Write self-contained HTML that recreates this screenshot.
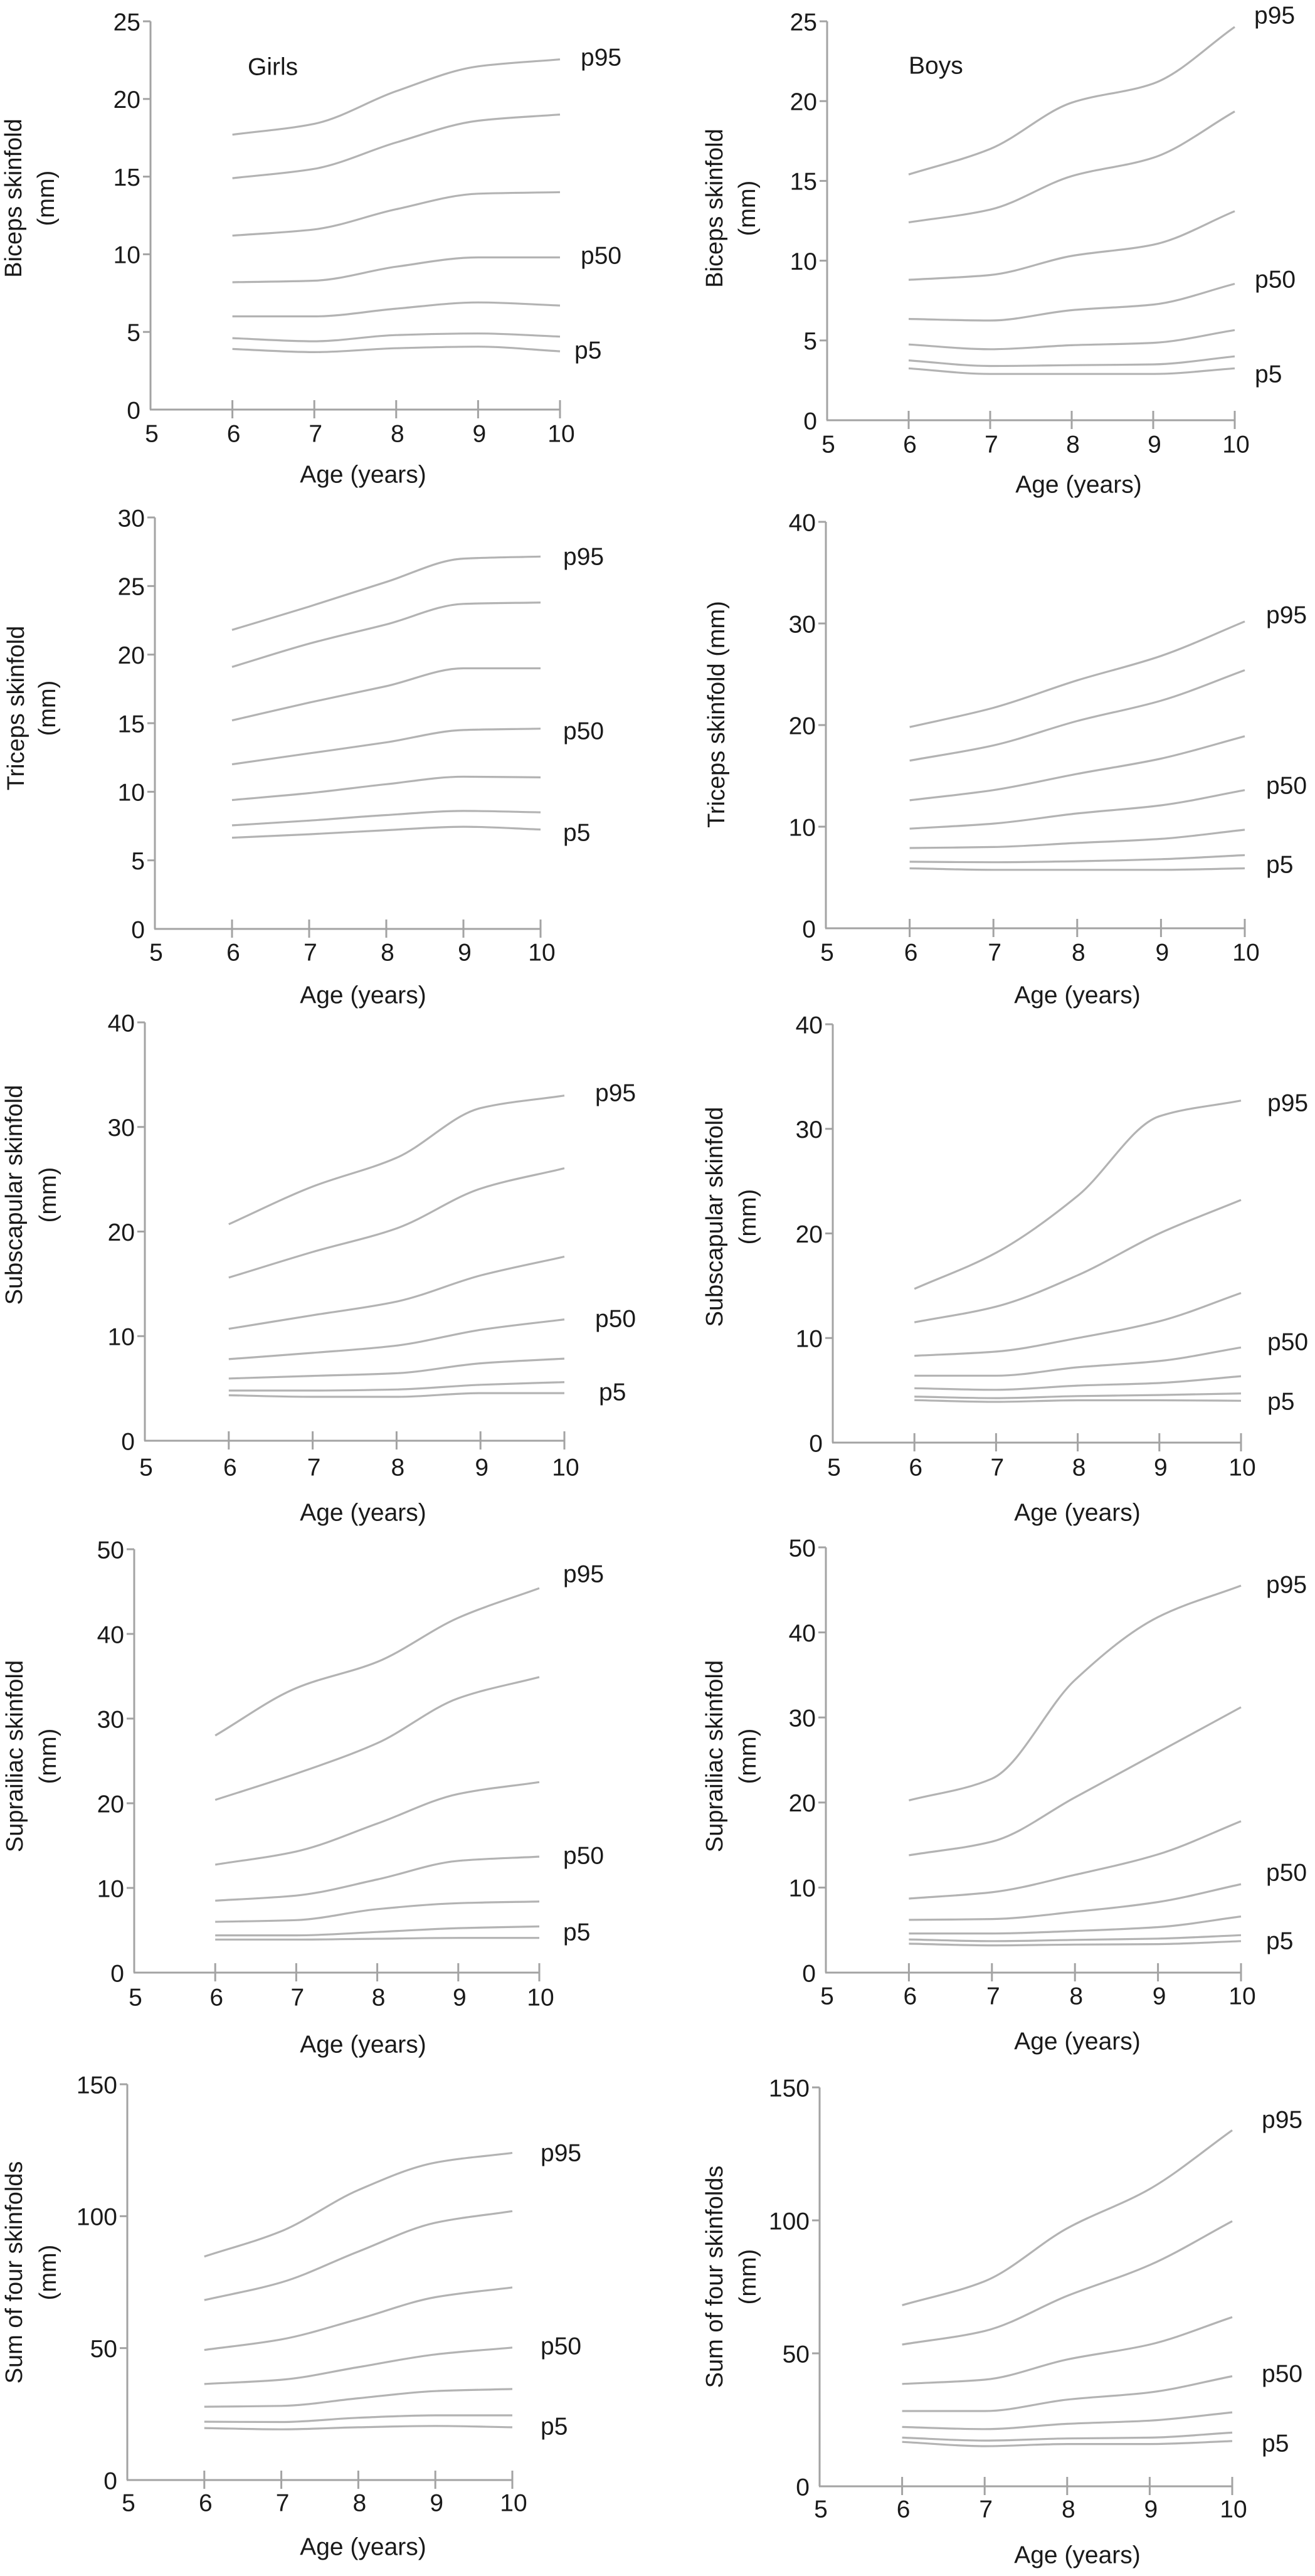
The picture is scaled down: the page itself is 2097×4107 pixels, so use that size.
<!DOCTYPE html>
<html><head><meta charset="utf-8"><title>Skinfold percentiles</title>
<style>
html,body{margin:0;padding:0;background:#fff;}
svg{display:block;}
text{font-family:"Liberation Sans",Arial,sans-serif;fill:#1a1a1a;}
</style></head>
<body>
<svg id="chart" xmlns="http://www.w3.org/2000/svg" width="2097" height="4107" viewBox="0 0 2097 4107">
<rect x="0" y="0" width="2097" height="4107" fill="#ffffff"/>
</svg>
<script>
// ---- data ----
const ages = [6, 7, 8, 9, 10];
const xTicks = [5, 6, 7, 8, 9, 10];
const percentileNames = ["p95", "p90", "p75", "p50", "p25", "p10", "p5"];
const labeledPercentiles = ["p95", "p50", "p5"];

const bicepsGirls = [
  [17.7, 18.4, 20.5, 22.1, 22.55],
  [14.9, 15.5, 17.2, 18.6, 19.0],
  [11.2, 11.6, 12.9, 13.9, 14.0],
  [8.2, 8.3, 9.2, 9.8, 9.8],
  [6.0, 6.0, 6.5, 6.9, 6.7],
  [4.6, 4.4, 4.8, 4.9, 4.7],
  [3.9, 3.7, 3.95, 4.05, 3.75]
];
const bicepsBoys = [
  [15.4, 17.0, 19.9, 21.1, 24.65],
  [12.4, 13.2, 15.3, 16.45, 19.35],
  [8.8, 9.1, 10.3, 11.0, 13.1],
  [6.35, 6.25, 6.9, 7.25, 8.55],
  [4.75, 4.45, 4.7, 4.85, 5.65],
  [3.75, 3.4, 3.45, 3.5, 4.0],
  [3.25, 2.9, 2.9, 2.9, 3.25]
];
const tricepsGirls = [
  [21.8, 23.5, 25.3, 27.0, 27.15],
  [19.1, 20.8, 22.2, 23.7, 23.8],
  [15.2, 16.5, 17.7, 19.0, 19.0],
  [12.0, 12.8, 13.6, 14.5, 14.6],
  [9.4, 9.9, 10.55, 11.1, 11.05],
  [7.55, 7.9, 8.3, 8.6, 8.5],
  [6.65, 6.9, 7.2, 7.45, 7.25]
];
const tricepsBoys = [
  [19.8, 21.7, 24.4, 26.8, 30.2],
  [16.5, 18.0, 20.4, 22.4, 25.4],
  [12.6, 13.6, 15.2, 16.7, 18.9],
  [9.8, 10.3, 11.3, 12.1, 13.6],
  [7.9, 8.0, 8.4, 8.8, 9.7],
  [6.55, 6.5, 6.6, 6.8, 7.2],
  [5.9, 5.75, 5.75, 5.75, 5.9]
];
const subscapularGirls = [
  [20.7, 24.3, 27.05, 31.8, 33.0],
  [15.6, 18.05, 20.3, 24.1, 26.05],
  [10.7, 12.0, 13.3, 15.8, 17.6],
  [7.8, 8.4, 9.1, 10.6, 11.6],
  [5.95, 6.2, 6.45, 7.4, 7.85],
  [4.8, 4.8, 4.9, 5.35, 5.6],
  [4.35, 4.2, 4.2, 4.55, 4.55]
];
const subscapularBoys = [
  [14.7, 18.15, 23.6, 31.2, 32.7],
  [11.5, 13.0, 16.0, 20.0, 23.2],
  [8.3, 8.7, 10.0, 11.6, 14.3],
  [6.4, 6.4, 7.2, 7.8, 9.1],
  [5.2, 5.05, 5.45, 5.7, 6.35],
  [4.4, 4.25, 4.45, 4.55, 4.7],
  [4.06, 3.9, 4.05, 4.05, 4.0]
];
const suprailiacGirls = [
  [28.0, 33.6, 36.7, 41.9, 45.4],
  [20.4, 23.5, 27.1, 32.4, 34.9],
  [12.75, 14.3, 17.6, 21.1, 22.5],
  [8.5, 9.1, 11.0, 13.2, 13.7],
  [6.0, 6.2, 7.5, 8.2, 8.4],
  [4.4, 4.4, 4.8, 5.25, 5.45],
  [3.9, 3.9, 4.0, 4.1, 4.1]
];
const suprailiacBoys = [
  [20.25, 22.8, 34.4, 41.8, 45.5],
  [13.8, 15.4, 20.6, 25.9, 31.2],
  [8.7, 9.45, 11.5, 13.9, 17.8],
  [6.2, 6.3, 7.15, 8.3, 10.4],
  [4.6, 4.6, 4.9, 5.35, 6.6],
  [3.9, 3.7, 3.85, 4.0, 4.4],
  [3.4, 3.2, 3.3, 3.35, 3.7]
];
const sumGirls = [
  [84.7, 94.3, 109.9, 120.3, 124.0],
  [68.2, 74.9, 86.6, 97.5, 101.9],
  [49.3, 53.3, 61.0, 69.3, 73.0],
  [36.4, 38.0, 42.8, 47.6, 50.2],
  [27.8, 28.1, 31.0, 33.7, 34.5],
  [22.1, 22.0, 23.6, 24.5, 24.5],
  [19.7, 19.2, 20.0, 20.5, 20.0]
];
const sumBoys = [
  [68.1, 77.1, 97.0, 111.8, 133.9],
  [53.3, 58.4, 71.6, 83.2, 99.7],
  [38.5, 40.1, 47.7, 53.3, 63.6],
  [28.3, 28.3, 32.6, 35.3, 41.4],
  [22.3, 21.5, 23.5, 24.7, 27.8],
  [18.3, 17.2, 18.0, 18.3, 20.2],
  [16.7, 15.1, 15.9, 15.9, 17.0]
];

const yTicks25 = [0, 5, 10, 15, 20, 25];
const yTicks30 = [0, 5, 10, 15, 20, 25, 30];
const yTicks40 = [0, 10, 20, 30, 40];
const yTicks50 = [0, 10, 20, 30, 40, 50];
const yTicks150 = [0, 50, 100, 150];

// ---- layout (pixel geometry, not data) ----
const panels = [
  {name:"biceps-girls", data:bicepsGirls, ticks:yTicks25, max:25, x0:240, x1:893, y0:653, y1:34,
   title:["Biceps skinfold","(mm)"], tx:[22,74], ty:316, tickY:692, ageX:579, ageY:757,
   lab:{p95:[926,92], p50:[926,408], p5:[916,559]}, group:"Girls", gx:395, gy:107},
  {name:"biceps-boys", data:bicepsBoys, ticks:yTicks25, max:25, x0:1319, x1:1969, y0:670, y1:34,
   title:["Biceps skinfold","(mm)"], tx:[1140,1192], ty:332, tickY:709, ageX:1720, ageY:773,
   lab:{p95:[2000,25], p50:[2001,446], p5:[2001,597]}, group:"Boys", gx:1449, gy:105},
  {name:"triceps-girls", data:tricepsGirls, ticks:yTicks30, max:30, x0:247, x1:862, y0:1481, y1:825,
   title:["Triceps skinfold","(mm)"], tx:[26,76], ty:1129, tickY:1519, ageX:579, ageY:1587,
   lab:{p95:[898,888], p50:[898,1166], p5:[898,1328]}},
  {name:"triceps-boys", data:tricepsBoys, ticks:yTicks40, max:40, x0:1317, x1:1985, y0:1480, y1:832,
   title:["Triceps skinfold (mm)"], tx:[1143], ty:1139, tickY:1519, ageX:1718, ageY:1587,
   lab:{p95:[2019,981], p50:[2019,1253], p5:[2019,1379]}},
  {name:"subscapular-girls", data:subscapularGirls, ticks:yTicks40, max:40, x0:231, x1:900, y0:2297, y1:1630,
   title:["Subscapular skinfold","(mm)"], tx:[23,77], ty:1905, tickY:2340, ageX:579, ageY:2412,
   lab:{p95:[949,1743], p50:[949,2103], p5:[955,2220]}},
  {name:"subscapular-boys", data:subscapularBoys, ticks:yTicks40, max:40, x0:1328, x1:1979, y0:2300, y1:1633,
   title:["Subscapular skinfold","(mm)"], tx:[1140,1193], ty:1940, tickY:2340, ageX:1718, ageY:2412,
   lab:{p95:[2021,1759], p50:[2021,2140], p5:[2021,2235]}},
  {name:"suprailiac-girls", data:suprailiacGirls, ticks:yTicks50, max:50, x0:214, x1:860, y0:3145, y1:2470,
   title:["Suprailiac skinfold","(mm)"], tx:[24,77], ty:2800, tickY:3185, ageX:579, ageY:3260,
   lab:{p95:[898,2510], p50:[898,2959], p5:[898,3081]}},
  {name:"suprailiac-boys", data:suprailiacBoys, ticks:yTicks50, max:50, x0:1317, x1:1979, y0:3145, y1:2467,
   title:["Suprailiac skinfold","(mm)"], tx:[1140,1193], ty:2800, tickY:3183, ageX:1718, ageY:3255,
   lab:{p95:[2019,2527], p50:[2019,2986], p5:[2019,3095]}},
  {name:"sum-girls", data:sumGirls, ticks:yTicks150, max:150, x0:203, x1:817, y0:3954, y1:3323,
   title:["Sum of four skinfolds","(mm)"], tx:[23,77], ty:3623, tickY:3991, ageX:579, ageY:4061,
   lab:{p95:[862,3433], p50:[862,3741], p5:[862,3869]}},
  {name:"sum-boys", data:sumBoys, ticks:yTicks150, max:150, x0:1307, x1:1965, y0:3964, y1:3328,
   title:["Sum of four skinfolds","(mm)"], tx:[1140,1193], ty:3630, tickY:4001, ageX:1718, ageY:4074,
   lab:{p95:[2012,3380], p50:[2012,3785], p5:[2012,3896]}}
];

const NS = "http://www.w3.org/2000/svg";
const svg = document.getElementById("chart");
const AX = "#a3a3a3", LN = "#b3b3b3";

function mk(tag, attrs, parent) {
  const e = document.createElementNS(NS, tag);
  for (const k in attrs) e.setAttribute(k, attrs[k]);
  parent.appendChild(e);
  return e;
}

// monotone cubic path (Fritsch-Carlson)
function monotonePath(px, py) {
  const n = px.length;
  const d = [], m = new Array(n);
  for (let i = 0; i < n - 1; i++) d.push((py[i+1]-py[i])/(px[i+1]-px[i]));
  m[0] = d[0]; m[n-1] = d[n-2];
  for (let i = 1; i < n - 1; i++) {
    if (d[i-1]*d[i] <= 0) m[i] = 0;
    else m[i] = 2/(1/d[i-1] + 1/d[i]);
  }
  let s = "M" + px[0].toFixed(1) + "," + py[0].toFixed(1);
  for (let i = 0; i < n - 1; i++) {
    const h = (px[i+1]-px[i])/3;
    s += " C" + (px[i]+h).toFixed(1) + "," + (py[i]+m[i]*h).toFixed(1) + " " +
         (px[i+1]-h).toFixed(1) + "," + (py[i+1]-m[i+1]*h).toFixed(1) + " " +
         px[i+1].toFixed(1) + "," + py[i+1].toFixed(1);
  }
  return s;
}

panels.forEach(function (p) {
  const g = mk("g", {}, svg);
  
  
  const xs = function (a) { return p.x0 + (a - 5) / 5 * (p.x1 - p.x0); };
  const ys = function (v) { return p.y0 - v / p.max * (p.y0 - p.y1); };

  const ya = mk("line", {x1:p.x0, y1:p.y0, x2:p.x0, y2:p.y1, stroke:AX, "stroke-width":3}, g);
  
  
  const xa = mk("line", {x1:p.x0-1, y1:p.y0, x2:p.x1, y2:p.y0, stroke:AX, "stroke-width":3}, g);
  
  

  p.ticks.forEach(function (t) {
    const y = ys(t);
    if (t !== 0) {
      const tk = mk("line", {x1:p.x0-12, y1:y, x2:p.x0, y2:y, stroke:AX, "stroke-width":3}, g);
      
      
    }
    const tl = mk("text", {x:p.x0-16, y:y+4, "font-size":39, "text-anchor":"end", "dominant-baseline":"middle"}, g);
    
    
    tl.textContent = t;
  });
  xTicks.forEach(function (a) {
    const x = xs(a);
    if (a !== 5) {
      const tk = mk("line", {x1:x, y1:p.y0-15, x2:x, y2:p.y0+14, stroke:AX, "stroke-width":3}, g);
      
      
    }
    const tl = mk("text", {x:x+2, y:p.tickY, "font-size":39, "text-anchor":"middle", "dominant-baseline":"central"}, g);
    
    
    tl.textContent = a;
  });

  const at = mk("text", {x:p.ageX, y:p.ageY, "font-size":39, "text-anchor":"middle", "dominant-baseline":"central"}, g);
  
  
  at.textContent = "Age (years)";
  p.title.forEach(function (line, i) {
    const t = mk("text", {x:0, y:0, "font-size":38, "text-anchor":"middle", "dominant-baseline":"central",
      transform:"translate(" + p.tx[i] + "," + p.ty + ") rotate(-90)"}, g);
    
    
    t.textContent = line;
  });

  if (p.group) {
    const gl = mk("text", {x:p.gx, y:p.gy, "font-size":39, "text-anchor":"start", "dominant-baseline":"central"}, g);
    
    
    gl.textContent = p.group;
  }

  p.data.forEach(function (series, si) {
    const px = ages.map(xs);
    const py = series.map(ys);
    const path = mk("path", {d:monotonePath(px, py), fill:"none", stroke:LN, "stroke-width":3.2, "stroke-linejoin":"round"}, g);
    
    
  });

  labeledPercentiles.forEach(function (k) {
    const pos = p.lab[k];
    const t = mk("text", {x:pos[0], y:pos[1], "font-size":39, "text-anchor":"start", "dominant-baseline":"central"}, g);
    
    
    t.textContent = k;
  });
});
</script>
</body></html>
